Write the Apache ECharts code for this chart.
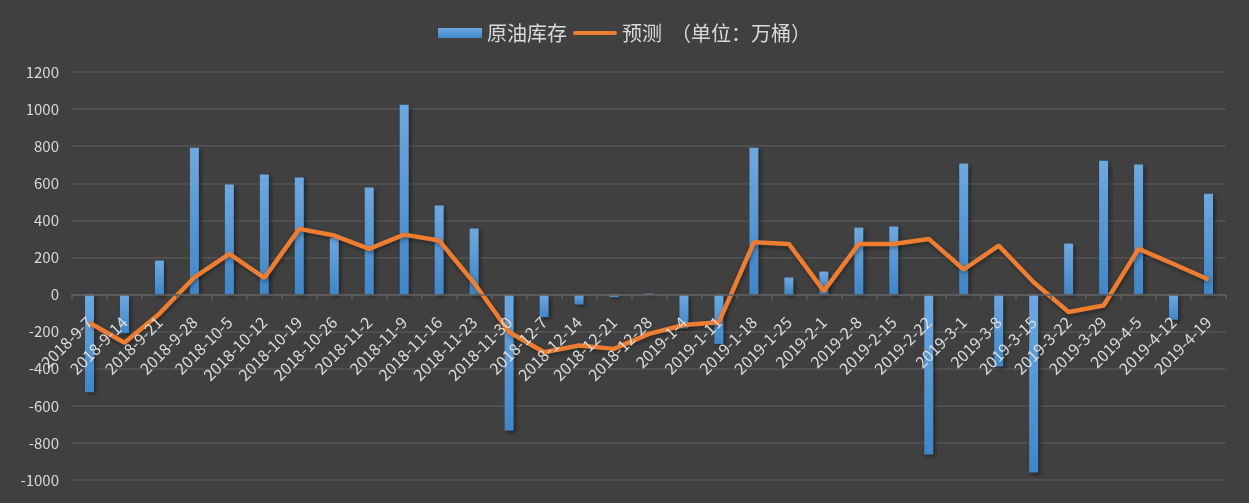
<!DOCTYPE html>
<html>
<head>
<meta charset="utf-8">
<script src="https://cdn.jsdelivr.net/npm/echarts@6/dist/echarts.min.js"></script>
<style>
html,body{margin:0;padding:0;background:#404040;}
#chart{width:1249px;height:503px;}
</style>
</head>
<body>
<div id="chart"></div>
<script>
var categories = ['2018-9-7','2018-9-14','2018-9-21','2018-9-28','2018-10-5','2018-10-12','2018-10-19','2018-10-26','2018-11-2','2018-11-9','2018-11-16','2018-11-23','2018-11-30','2018-12-7','2018-12-14','2018-12-21','2018-12-28','2019-1-4','2019-1-11','2019-1-18','2019-1-25','2019-2-1','2019-2-8','2019-2-15','2019-2-22','2019-3-1','2019-3-8','2019-3-15','2019-3-22','2019-3-29','2019-4-5','2019-4-12','2019-4-19'];
var inventory = [-527,-208,183,792,593,647,631,305,577,1024,480,356,-733,-122,-54,-14,5,-183,-266,792,92,124,361,367,-862,706,-388,-960,275,722,701,-136,544];
var forecast = [-152,-260,-103,93,219,90,354,318,246,323,291,62,-202,-311,-275,-293,-212,-164,-149,282,273,18,273,273,300,135,264,66,-94,-59,246,165,81];
var yTicks = {min:-1000, max:1200, interval:200};
var seriesNames = ['原油库存','预测  （单位：万桶）'];

var font = "'Noto Sans CJK SC','Noto Sans',sans-serif";
var gridTop = 72, gridBottom = 23, H = 503;
var gridHeight = H - gridTop - gridBottom;
var zeroOffset = -gridHeight * (0 - yTicks.min) / (yTicks.max - yTicks.min);

var chart = echarts.init(document.getElementById('chart'));
chart.setOption({
  backgroundColor:'#404040',
  animation:false,
  textStyle:{fontFamily:font},
  legend:{
    top:18, left:'center',
    itemWidth:44, itemHeight:10, itemGap:6,
    textStyle:{color:'#d9d9d9', fontSize:20, fontFamily:font},
    data:[
      {name:seriesNames[0], icon:'rect'},
      {name:seriesNames[1], icon:'path://M2,0 L44,0 A2,2 0 0 1 44,4 L2,4 A2,2 0 0 1 2,0 Z'}
    ]
  },
  grid:{left:72, right:23, top:gridTop, bottom:gridBottom, containLabel:false, outerBoundsMode:'none'},
  xAxis:{
    type:'category',
    data:categories,
    boundaryGap:true,
    offset:zeroOffset,
    z:10,
    axisLine:{onZero:false, lineStyle:{color:'#5f5f5f', width:1.5}},
    axisTick:{show:true, length:5, lineStyle:{color:'#5f5f5f', width:1.5}},
    axisLabel:{rotate:45, interval:0, color:'#dcdcdc', fontSize:16, margin:25, fontFamily:font},
    splitLine:{show:false}
  },
  yAxis:{
    type:'value',
    min:yTicks.min, max:yTicks.max, interval:yTicks.interval,
    axisLine:{show:false},
    axisTick:{show:false},
    axisLabel:{color:'#d9d9d9', fontSize:15, margin:13, fontFamily:font, formatter:function(v){return String(v);}},
    splitLine:{lineStyle:{color:'#555555', width:1.5}}
  },
  series:[
    {
      name:seriesNames[0],
      type:'bar',
      data:inventory,
      barWidth:9,
      itemStyle:{
        color:new echarts.graphic.LinearGradient(0,0,0,1,[{offset:0,color:'#6ea8e0'},{offset:1,color:'#3f86c8'}]),
        shadowColor:'rgba(0,0,0,0.45)', shadowBlur:4, shadowOffsetX:2, shadowOffsetY:2
      }
    },
    {
      name:seriesNames[1],
      type:'line',
      data:forecast,
      symbol:'none',
      lineStyle:{color:'#ED7D31', width:4.5, shadowColor:'rgba(0,0,0,0.4)', shadowBlur:4, shadowOffsetX:1, shadowOffsetY:2},
      itemStyle:{color:'#ED7D31'},
      z:3
    }
  ]
});
</script>
</body>
</html>
